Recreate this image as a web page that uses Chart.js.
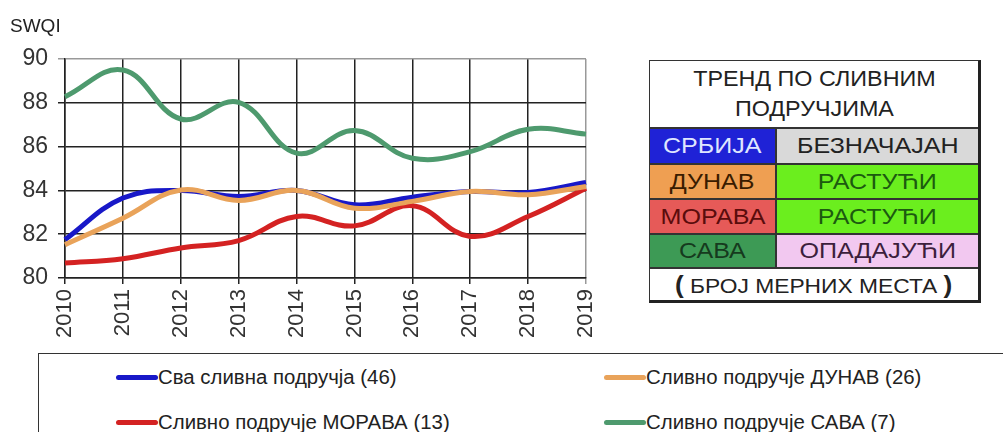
<!DOCTYPE html>
<html>
<head>
<meta charset="utf-8">
<script src="https://cdn.jsdelivr.net/npm/chart.js@4"></script>
<style>
  html, body { margin:0; padding:0; background:#fff; width:1003px; height:432px; overflow:hidden; font-family:"Liberation Sans", Arial, sans-serif; }
  #wrap { position:absolute; left:0; top:0; width:620px; height:350px; }
  #title { position:absolute; left:10px; top:15px; font-size:19px; color:#222; }
  #tbl { position:absolute; left:649px; top:60px; width:332px; height:243px; border:1.5px solid #333; border-right:3px solid #222; border-bottom:3px solid #222; box-sizing:border-box; }
  .row { position:absolute; left:0; width:100%; display:flex; border-top:2px solid #333; box-sizing:border-box; }
  .cell { display:flex; align-items:center; justify-content:center; font-size:22px; box-sizing:border-box; height:100%; }
  .cell span { display:inline-block; transform:scaleX(1.14); white-space:nowrap; }
  .c1 { width:127px; border-right:2px solid #333; }
  .c2 { flex:1; }
  #head { position:absolute; left:0; top:0; width:100%; height:66px; display:flex; align-items:center; justify-content:center; text-align:center; font-size:22px; line-height:30px; color:#222; }
  #head span { display:inline-block; transform:scaleX(1.06); }
  #leg { position:absolute; left:38px; top:353px; width:1000px; height:100px; border:1px solid #333; box-sizing:border-box; }
  .li { position:absolute; display:flex; align-items:center; font-size:20px; color:#222; white-space:nowrap; }
  .li span.t { display:inline-block; transform:scaleX(1.02); transform-origin:left center; }
  .sw { width:42px; height:5px; border-radius:3px; }
</style>
</head>
<body>
<div id="wrap"><canvas id="c" width="620" height="350"></canvas></div>
<div id="title">SWQI</div>

<div id="tbl">
  <div id="head"><span>ТРЕНД ПО СЛИВНИМ<br>ПОДРУЧЈИМА</span></div>
  <div class="row" style="top:66px;height:36px;">
    <div class="cell c1" style="background:#1f22d6;color:#dfe6ff;"><span>СРБИЈА</span></div>
    <div class="cell c2" style="background:#d9d9d9;color:#222;"><span>БЕЗНАЧАЈАН</span></div>
  </div>
  <div class="row" style="top:102px;height:35px;">
    <div class="cell c1" style="background:#ef9f52;color:#3a1c00;"><span>ДУНАВ</span></div>
    <div class="cell c2" style="background:#6bee1e;color:#1c5a10;"><span>РАСТУЋИ</span></div>
  </div>
  <div class="row" style="top:137px;height:35px;">
    <div class="cell c1" style="background:#e65a58;color:#5a0c0c;"><span>МОРАВА</span></div>
    <div class="cell c2" style="background:#6bee1e;color:#1c5a10;"><span>РАСТУЋИ</span></div>
  </div>
  <div class="row" style="top:172px;height:34px;">
    <div class="cell c1" style="background:#3d9a55;color:#163a1e;"><span>САВА</span></div>
    <div class="cell c2" style="background:#f2c8f0;color:#3c1e3c;"><span>ОПАДАЈУЋИ</span></div>
  </div>
  <div class="row" style="top:206px;height:34px;">
    <div class="cell c2" style="font-size:20px;color:#222;"><span><b style="font-size:23px;">(</b>&nbsp;БРОЈ МЕРНИХ МЕСТА&nbsp;<b style="font-size:23px;">)</b></span></div>
  </div>
</div>

<div id="leg">
  <div class="li" style="left:77px;top:12px;"><span class="sw" style="background:#1818c8"></span><span class="t">Сва сливна подручја (46)</span></div>
  <div class="li" style="left:565px;top:12px;"><span class="sw" style="background:#e9a35a"></span><span class="t">Сливно подручје ДУНАВ (26)</span></div>
  <div class="li" style="left:77px;top:57px;"><span class="sw" style="background:#d42222"></span><span class="t">Сливно подручје МОРАВА (13)</span></div>
  <div class="li" style="left:565px;top:57px;"><span class="sw" style="background:#4e9a6e"></span><span class="t">Сливно подручје САВА (7)</span></div>
</div>

<script>
const years = ['2010','2011','2012','2013','2014','2015','2016','2017','2018','2019'];
const sava   = [88.28, 89.5, 87.26, 88.02, 85.7, 86.73, 85.47, 85.77, 86.79, 86.57];
const srbija = [81.75, 83.65, 84.0, 83.72, 84.0, 83.34, 83.69, 83.95, 83.9, 84.36];
const dunav  = [81.52, 82.73, 84.02, 83.54, 84.0, 83.19, 83.5, 83.95, 83.8, 84.18];
const morava = [80.68, 80.88, 81.37, 81.71, 82.81, 82.38, 83.3, 81.9, 82.81, 84.1];
const yTicks = [80, 82, 84, 86, 88, 90];

function ds(label, data, color, order) {
  return { label, data, borderColor: color, backgroundColor: color, borderWidth: 5,
           pointRadius: 0, tension: 0.4, cubicInterpolationMode: 'default', fill: false, order };
}

new Chart(document.getElementById('c'), {
  type: 'line',
  data: {
    labels: years,
    datasets: [
      ds('Сва сливна подручја (46)', srbija, '#1818c8', 2),
      ds('Сливно подручје ДУНАВ (26)', dunav, '#e9a35a', 1),
      ds('Сливно подручје МОРАВА (13)', morava, '#d42222', 3),
      ds('Сливно подручје САВА (7)', sava, '#4e9a6e', 4)
    ]
  },
  options: {
    responsive: false,
    animation: false,
    layout: { padding: { left: 0, top: 59, right: 34, bottom: 0 } },
    plugins: { legend: { display: false }, tooltip: { enabled: false } },
    scales: {
      x: {
        offset: false,
        grid: { color: (c) => c.index === years.length - 1 ? '#999' : '#222', lineWidth: 1.5, tickLength: 6, drawTicks: true },
        border: { color: '#222', width: 1.5 },
        ticks: { color: '#333', font: { size: 22, family: '"Liberation Sans", Arial' }, minRotation: 90, maxRotation: 90, padding: 5, autoSkip: false },
        afterFit: (s) => { s.height = 72; }
      },
      y: {
        min: 80, max: 90,
        afterBuildTicks: (s) => { s.ticks = yTicks.map(v => ({ value: v })); },
        grid: { color: (c) => c.tick && c.tick.value === 90 ? '#999' : '#222', lineWidth: 1.5, tickLength: 7 },
        border: { color: '#222', width: 1.5 },
        ticks: { color: '#333', font: { size: 23, family: '"Liberation Sans", Arial' }, padding: 10 },
        afterFit: (s) => { s.width = 65; }
      }
    }
  }
});
</script>
</body>
</html>
